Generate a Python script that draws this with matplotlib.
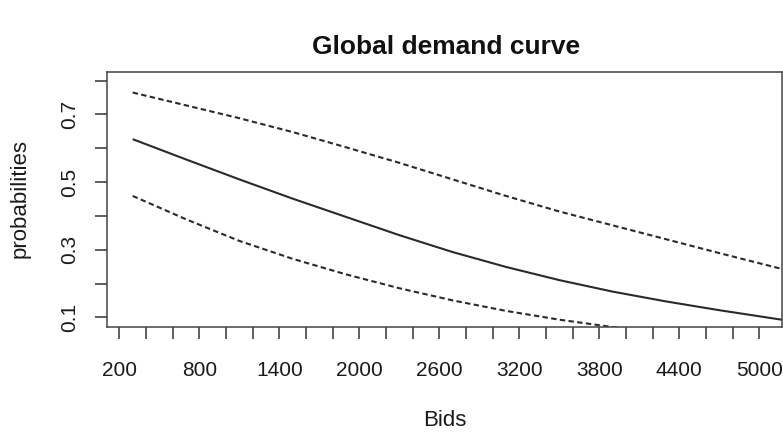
import matplotlib
matplotlib.use("Agg")
import matplotlib.pyplot as plt

plt.rcParams['font.family'] = ['Liberation Sans', 'DejaVu Sans']

# Data
bids = [300, 700, 1100, 1500, 1900, 2300, 2700, 3100, 3500, 3900, 4300, 4700, 5100, 5200]
prob_mid = [0.627, 0.567, 0.508, 0.451, 0.397, 0.343, 0.293, 0.249, 0.210, 0.176,
            0.147, 0.121, 0.097, 0.091]
prob_upper = [0.765, 0.727, 0.689, 0.648, 0.603, 0.557, 0.508, 0.459, 0.413, 0.372,
              0.331, 0.290, 0.250, 0.240]
bids_lower = [300, 700, 1100, 1500, 1900, 2300, 2700, 3100, 3500, 3900, 4300]
prob_lower = [0.459, 0.390, 0.326, 0.273, 0.227, 0.186, 0.150, 0.119, 0.093, 0.071, 0.052]

x_ticks = list(range(200, 5001, 200))
x_labels = [str(v) if (v - 200) % 600 == 0 else "" for v in x_ticks]
y_ticks = [0.1, 0.2, 0.3, 0.4, 0.5, 0.6, 0.7, 0.8]
y_labels = ["0.1", "", "0.3", "", "0.5", "", "0.7", ""]

W, H = 783, 433
fig = plt.figure(figsize=(W / 100, H / 100), dpi=100)
left, right, top, bottom = 106.7, 781.7, 71.7, 326.7
ax = fig.add_axes([left / W, 1 - bottom / H, (right - left) / W, (bottom - top) / H])

col = "#2a2a2a"
ax.plot(bids, prob_mid, color=col, lw=1.5, solid_capstyle='butt', solid_joinstyle='round')
ax.plot(bids, prob_upper, color=col, lw=1.5, dashes=(2.6, 1.6))
ax.plot(bids_lower, prob_lower, color=col, lw=1.5, dashes=(2.6, 1.6))

ax.set_xlim(105, 5168)
ax.set_ylim(0.0722, 0.8266)

ax.set_xticks(x_ticks)
ax.set_xticklabels(x_labels)
ax.set_yticks(y_ticks)
ax.set_yticklabels(y_labels, rotation=90, va='center')

ax.tick_params(axis='both', length=8.6, width=1.1, color="#333333",
               labelsize=15, labelcolor="#1a1a1a")
ax.tick_params(axis='x', pad=16)
ax.tick_params(axis='y', pad=11)

for s in ax.spines.values():
    s.set_linewidth(1.1)
    s.set_color("#444444")

fig.text(446 / W, 1 - 47 / H, "Global demand curve", ha='center', va='center',
         fontsize=19, fontweight='bold', color="#111111")
fig.text(445 / W, 1 - 421 / H, "Bids", ha='center', va='center',
         fontsize=16, color="#1a1a1a")
fig.text(20 / W, 1 - 199 / H, "probabilities", ha='center', va='center',
         rotation=90, fontsize=16, color="#1a1a1a")

fig.savefig("out.png", dpi=100)
